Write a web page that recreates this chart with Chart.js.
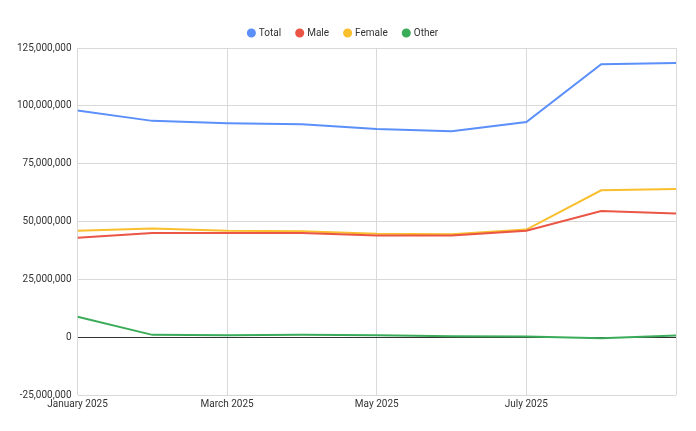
<!DOCTYPE html>
<html>
<head>
<meta charset="utf-8">
<script src="https://cdn.jsdelivr.net/npm/chart.js@4"></script>
<style>
  body { margin: 0; background: #fff; }
  #wrap { width: 696px; height: 431px; }
</style>
</head>
<body>
<div id="wrap"><canvas id="chart"></canvas></div>
<script>
// Months, one point each
const months = ['January 2025', 'February 2025', 'March 2025', 'April 2025', 'May 2025',
    'June 2025', 'July 2025', 'August 2025', 'September 2025'];

const total = [98000000, 93500000, 92500000, 92000000, 90000000, 89000000, 93000000, 118000000, 118500000];
const male = [43000000, 45000000, 45000000, 45000000, 44000000, 44000000, 46000000, 54500000, 53500000];
const female = [46000000, 47000000, 46000000, 45800000, 44700000, 44500000, 46500000, 63500000, 64000000];
const other = [8800000, 1000000, 800000, 1000000, 800000, 400000, 300000, -500000, 700000];

function pts(values) {
    return values.map((v, i) => ({ x: i, y: v }));
}

function series(label, values, color) {
    return {
        label: label,
        data: pts(values),
        borderColor: color,
        backgroundColor: color,
        borderWidth: 2,
        pointRadius: 0,
        tension: 0
    };
}

new Chart(document.getElementById('chart').getContext('2d'), {
    type: 'line',
    data: {
        datasets: [
            series('Total', total, '#5b8ff9'),
            series('Male', male, '#ea5545'),
            series('Female', female, '#f9bf2c'),
            series('Other', other, '#3aac59')
        ]
    },
    options: {
        responsive: true,
        maintainAspectRatio: false,
        animation: false,
        layout: { padding: { left: 11, right: 20, top: 12, bottom: 18 } },
        plugins: {
            legend: {
                position: 'top',
                labels: {
                    usePointStyle: true,
                    pointStyle: 'circle',
                    boxWidth: 5,
                    boxHeight: 5,
                    padding: 16,
                    color: '#333',
                    font: { family: 'Roboto', size: 10 }
                }
            },
            tooltip: { enabled: false }
        },
        scales: {
            x: {
                type: 'linear',
                min: 0,
                max: 8,
                ticks: {
                    stepSize: 2,
                    color: '#333',
                    font: { family: 'Roboto', size: 10 },
                    maxRotation: 0,
                    callback: v => (v % 2 === 0 && v < 8) ? months[v] : ''
                },
                grid: { color: '#d9d9d9', drawTicks: false },
                border: { display: false }
            },
            y: {
                min: -25000000,
                max: 125000000,
                ticks: {
                    stepSize: 25000000,
                    color: '#333',
                    padding: 6,
                    font: { family: 'Roboto', size: 10 },
                    callback: v => v.toLocaleString('en-US')
                },
                grid: {
                    color: ctx => ctx.tick && ctx.tick.value === 0 ? '#333' : '#d9d9d9',
                    drawTicks: false
                },
                border: { display: false }
            }
        }
    }
});
</script>
</body>
</html>
